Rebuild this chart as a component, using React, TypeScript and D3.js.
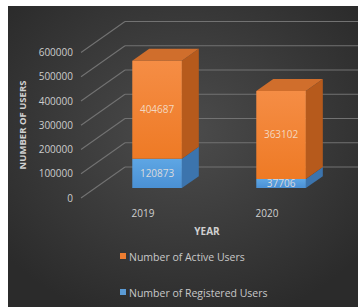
import React from "react";
import * as d3 from "d3";

const categories = ["2019", "2020"];
const registeredUsers = [120873, 37706];
const activeUsers = [404687, 363102];
const yTicks = [0, 100000, 200000, 300000, 400000, 500000, 600000];
const seriesNames = ["Number of Active Users", "Number of Registered Users"];

const W = 358;
const H = 307;
const DX = 44; // full depth offset x
const DY = -31; // full depth offset y
const F0 = 0.32;
const F1 = 0.705;

export default function App() {
  const y = d3.scaleLinear().domain([0, 600000]).range([198, 52.5]);
  const x = d3.scaleBand().domain(categories).range([81, 329]).paddingInner(0.6).paddingOuter(0.3);
  const xc = d3.scaleBand().domain(categories).range([81, 329]);
  const P = (px: number, v: number, f: number): [number, number] => [px + DX * f, y(v) + DY * f];
  const poly = (pts: [number, number][]) => pts.map((p) => p.join(",")).join(" ");
  const font = "'Open Sans', sans-serif";
  const gridColor = "#727272";

  const bars: React.ReactNode[] = [];
  categories.forEach((c, i) => {
    const x0 = x(c)!;
    const x1 = x0 + x.bandwidth();
    const segs = [
      { lo: 0, hi: registeredUsers[i], front: "url(#blueFront)", side: "#3c74ad", top: "#4d8ac4", label: registeredUsers[i] },
      { lo: registeredUsers[i], hi: registeredUsers[i] + activeUsers[i], front: "url(#orFront)", side: "#b65a1c", top: "#d06e2c", label: activeUsers[i] },
    ];
    segs.forEach((s, j) => {
      bars.push(
        <g key={`${c}-${j}`}>
          <polygon points={poly([P(x1, s.lo, F0), P(x1, s.lo, F1), P(x1, s.hi, F1), P(x1, s.hi, F0)])} fill={s.side} />
          {j === 1 && (
            <polygon points={poly([P(x0, s.hi, F0), P(x1, s.hi, F0), P(x1, s.hi, F1), P(x0, s.hi, F1)])} fill={s.top} />
          )}
          <polygon points={poly([P(x0, s.lo, F0), P(x1, s.lo, F0), P(x1, s.hi, F0), P(x0, s.hi, F0)])} fill={s.front} />
          <text
            x={P((x0 + x1) / 2, 0, F0)[0]}
            y={(P(0, s.lo, F0)[1] + P(0, s.hi, F0)[1]) / 2 + 3.5}
            textAnchor="middle"
            fontFamily={font}
            fontSize={10}
            fill="#f4e6dc"
            fillOpacity={0.85}
          >
            {s.label}
          </text>
        </g>
      );
    });
  });

  return (
    <svg width={W} height={H} style={{ position: "fixed", left: 0, top: 0 }}>
      <defs>
        <radialGradient id="bg" cx="50%" cy="42%" r="65%">
          <stop offset="0%" stopColor="#4c4c4c" />
          <stop offset="100%" stopColor="#2b2b2b" />
        </radialGradient>
        <linearGradient id="orFront" x1="0" y1="0" x2="0" y2="1">
          <stop offset="0%" stopColor="#f58d45" />
          <stop offset="100%" stopColor="#ee7a25" />
        </linearGradient>
        <linearGradient id="blueFront" x1="0" y1="0" x2="0" y2="1">
          <stop offset="0%" stopColor="#5ea6e4" />
          <stop offset="100%" stopColor="#4a90d4" />
        </linearGradient>
      </defs>
      <rect x={0} y={0} width={W} height={H} fill="#ffffff" />
      <rect x={8} y={6} width={W - 8} height={H - 6} fill="url(#bg)" />
      {yTicks.map((t) => {
        const a = P(xc.range()[0], t, 0);
        const b = P(xc.range()[0], t, 1);
        return (
          <g key={t}>
            <line x1={a[0]} y1={a[1]} x2={b[0]} y2={b[1]} stroke={gridColor} strokeWidth={1.1} />
            <line x1={b[0]} y1={b[1]} x2={W + 5} y2={b[1]} stroke={gridColor} strokeWidth={1.1} />
            <text x={73} y={a[1] + 3.5} textAnchor="end" fontFamily={font} fontSize={10} fill="#cccccc">
              {t}
            </text>
          </g>
        );
      })}
      {bars}
      {categories.map((c) => (
        <text key={c} x={xc(c)! + xc.bandwidth() / 2} y={217} textAnchor="middle" fontFamily={font} fontSize={10} fill="#d0d0d0">
          {c}
        </text>
      ))}
      <text x={207} y={235} textAnchor="middle" fontFamily={font} fontSize={10} fontWeight="bold" fill="#d0d0d0">
        YEAR
      </text>
      <text
        transform={`translate(26,125) rotate(-90)`}
        textAnchor="middle"
        fontFamily={font}
        fontSize={9.5}
        fontWeight="bold"
        fill="#d0d0d0"
      >
        NUMBER OF USERS
      </text>
      {seriesNames.map((n, i) => (
        <g key={n}>
          <rect x={120} y={[253, 289][i]} width={6} height={6} fill={["#ed7d31", "#5b9bd5"][i]} />
          <text x={129} y={[260.5, 296.5][i]} fontFamily={font} fontSize={10.5} fill="#c8c8c8">
            {n}
          </text>
        </g>
      ))}
    </svg>
  );
}
